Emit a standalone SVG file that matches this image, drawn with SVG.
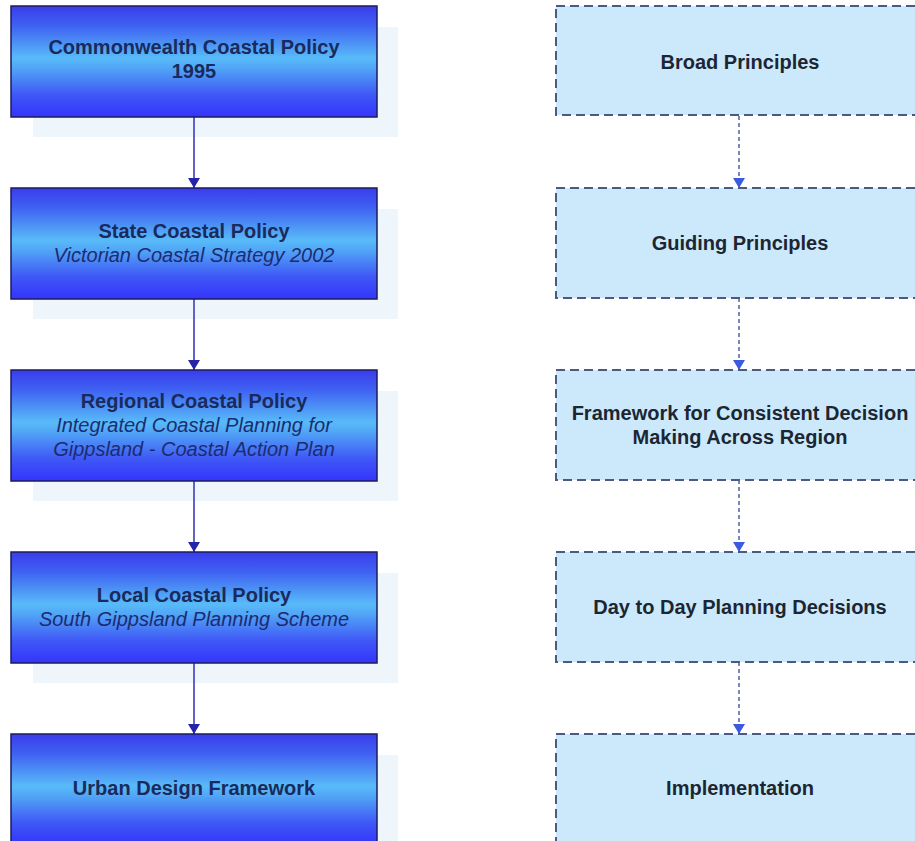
<svg xmlns="http://www.w3.org/2000/svg" width="915" height="841" viewBox="0 0 915 841">
<defs>
<linearGradient id="blueGrad" x1="0" y1="0" x2="0" y2="1">
<stop offset="0" stop-color="#3a3cec"/>
<stop offset="0.18" stop-color="#3f62f2"/>
<stop offset="0.47" stop-color="#58bbf8"/>
<stop offset="0.55" stop-color="#52a8f6"/>
<stop offset="0.8" stop-color="#3f58f6"/>
<stop offset="1" stop-color="#3434fc"/>
</linearGradient>
<marker id="arrSolid" viewBox="0 0 12 10" refX="6" refY="10" markerWidth="12" markerHeight="10" markerUnits="userSpaceOnUse">
<path d="M0,0 L12,0 L6,10 Z" fill="#2424a8"/>
</marker>
<marker id="arrDash" viewBox="0 0 12 10" refX="6" refY="10" markerWidth="12" markerHeight="10" markerUnits="userSpaceOnUse">
<path d="M0,0 L12,0 L6,10 Z" fill="#3a5ae0"/>
</marker>
</defs>
<style>
.shadow{fill:#eef5fb;}
.solid{fill:url(#blueGrad);stroke:#1c1c5c;stroke-width:1.5;}
.dashed{fill:#cce9fb;stroke:#4a5a80;stroke-width:2;stroke-dasharray:9 5;}
.t{font-family:"Liberation Sans",Arial,sans-serif;font-size:20px;text-anchor:middle;}
.b{font-weight:bold;fill:#1a2a5c;}
.i{font-style:italic;fill:#1c2c70;}
.r{font-weight:bold;fill:#1c2633;}
.c1{stroke:#3030b4;stroke-width:1.5;fill:none;}
.c2{stroke:#5060a0;stroke-width:1.5;fill:none;stroke-dasharray:4 3;}
</style>
<rect width="915" height="841" fill="#ffffff"/>
<g id="shadows">
<rect class="shadow" x="33" y="27" width="365" height="110"/>
<rect class="shadow" x="33" y="209" width="365" height="110"/>
<rect class="shadow" x="33" y="391" width="365" height="110"/>
<rect class="shadow" x="33" y="573" width="365" height="110"/>
<rect class="shadow" x="33" y="755" width="365" height="110"/>
</g>
<g id="connectors">
<line class="c1" x1="194" y1="117" x2="194" y2="188" marker-end="url(#arrSolid)"/>
<line class="c1" x1="194" y1="299" x2="194" y2="370" marker-end="url(#arrSolid)"/>
<line class="c1" x1="194" y1="481" x2="194" y2="552" marker-end="url(#arrSolid)"/>
<line class="c1" x1="194" y1="663" x2="194" y2="734" marker-end="url(#arrSolid)"/>
<line class="c2" x1="739" y1="116" x2="739" y2="188" marker-end="url(#arrDash)"/>
<line class="c2" x1="739" y1="298" x2="739" y2="370" marker-end="url(#arrDash)"/>
<line class="c2" x1="739" y1="480" x2="739" y2="552" marker-end="url(#arrDash)"/>
<line class="c2" x1="739" y1="662" x2="739" y2="734" marker-end="url(#arrDash)"/>
</g>
<g id="commonwealth">
<rect class="solid" x="11" y="6" width="366" height="111"/>
<text class="t b" x="194" y="54">Commonwealth Coastal Policy</text>
<text class="t b" x="194" y="78">1995</text>
</g>
<g id="state">
<rect class="solid" x="11" y="188" width="366" height="111"/>
<text class="t b" x="194" y="238">State Coastal Policy</text>
<text class="t i" x="194" y="262">Victorian Coastal Strategy 2002</text>
</g>
<g id="regional">
<rect class="solid" x="11" y="370" width="366" height="111"/>
<text class="t b" x="194" y="408">Regional Coastal Policy</text>
<text class="t i" x="194" y="432">Integrated Coastal Planning for</text>
<text class="t i" x="194" y="456">Gippsland - Coastal Action Plan</text>
</g>
<g id="local">
<rect class="solid" x="11" y="552" width="366" height="111"/>
<text class="t b" x="194" y="602">Local Coastal Policy</text>
<text class="t i" x="194" y="626">South Gippsland Planning Scheme</text>
</g>
<g id="urban">
<rect class="solid" x="11" y="734" width="366" height="111"/>
<text class="t b" x="194" y="795">Urban Design Framework</text>
</g>
<g id="broad">
<rect class="dashed" x="556" y="6" width="366" height="109"/>
<text class="t r" x="740" y="69">Broad Principles</text>
</g>
<g id="guiding">
<rect class="dashed" x="556" y="188" width="366" height="110"/>
<text class="t r" x="740" y="250">Guiding Principles</text>
</g>
<g id="framework">
<rect class="dashed" x="556" y="370" width="366" height="110"/>
<text class="t r" x="740" y="420">Framework for Consistent Decision</text>
<text class="t r" x="740" y="444">Making Across Region</text>
</g>
<g id="daytoday">
<rect class="dashed" x="556" y="552" width="366" height="110"/>
<text class="t r" x="740" y="614">Day to Day Planning Decisions</text>
</g>
<g id="implementation">
<rect class="dashed" x="556" y="734" width="366" height="110"/>
<text class="t r" x="740" y="795">Implementation</text>
</g>
</svg>
